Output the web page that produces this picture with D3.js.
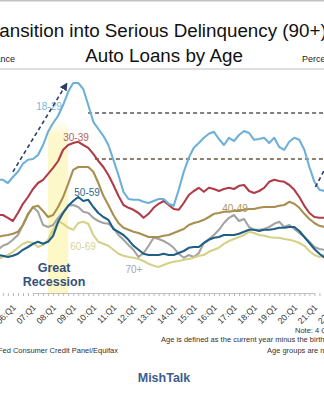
<!DOCTYPE html>
<html>
<head>
<meta charset="utf-8">
<script src="https://cdn.jsdelivr.net/npm/d3@7"></script>
<style>
  html, body { margin: 0; padding: 0; background: #fff; }
  svg { display: block; font-family: "Liberation Sans", Arial, sans-serif; }
</style>
</head>
<body>
<svg id="chart" width="324" height="400"></svg>
<script>
// Quarterly series, percent of balance, first point = 2005 Q2
const firstQuarter = 2005.25;

const age18to29 = [2.83,2.83,2.75,2.90,3.03,3.23,3.33,3.35,3.45,3.70,4.03,4.25,4.43,4.70,5.03,5.25,5.25,5.10,4.70,4.28,
  4.10,3.93,3.70,3.33,2.95,2.53,2.35,2.33,2.33,2.28,2.25,2.30,2.35,2.35,2.23,2.18,2.58,3.03,3.38,3.63,
  3.75,3.88,3.98,4.03,3.85,3.70,3.88,3.80,3.95,4.05,4.00,3.83,3.85,3.88,3.75,3.88,3.65,3.58,3.78,3.88,
  3.83,3.58,3.15,2.78,2.58,2.55,2.70];

const age30to39 = [1.95,1.95,1.88,1.80,2.00,2.23,2.40,2.60,2.75,2.83,2.98,3.13,3.30,3.58,3.70,3.75,3.78,3.70,3.63,3.48,
  3.30,3.15,2.95,2.70,2.43,2.20,2.13,2.08,2.00,1.88,1.98,2.13,2.23,2.30,2.20,2.10,2.08,2.25,2.45,2.55,
  2.63,2.53,2.63,2.60,2.55,2.60,2.63,2.60,2.68,2.70,2.55,2.50,2.55,2.63,2.78,2.83,2.80,2.78,2.70,2.58,
  2.40,2.18,2.00,1.90,1.88,1.88,1.90];

const age40to49 = [1.40,1.43,1.45,1.48,1.53,1.70,1.98,2.15,2.18,2.05,1.90,1.95,2.15,2.40,2.73,3.08,3.15,3.15,3.15,3.03,
  2.75,2.43,2.20,1.95,1.75,1.63,1.58,1.53,1.50,1.45,1.40,1.40,1.40,1.43,1.45,1.50,1.55,1.60,1.70,1.75,
  1.78,1.83,1.90,1.98,2.00,2.03,2.03,2.05,2.05,2.08,2.10,2.10,2.13,2.15,2.15,2.15,2.18,2.20,2.28,2.23,
  2.13,1.98,1.85,1.75,1.68,1.65,1.63];

const age50to59 = [0.95,0.93,0.90,0.93,0.98,1.08,1.15,1.23,1.28,1.23,1.28,1.43,1.78,2.00,2.18,2.30,2.40,2.30,2.33,2.15,
  2.00,1.90,1.83,1.60,1.53,1.45,1.33,1.18,1.08,0.98,0.95,0.95,0.95,0.98,0.95,0.95,1.00,1.05,1.13,1.15,
  1.15,1.25,1.33,1.38,1.40,1.45,1.45,1.45,1.48,1.53,1.58,1.58,1.55,1.58,1.58,1.60,1.63,1.63,1.65,1.65,
  1.55,1.40,1.25,1.10,0.98,0.88,0.83];

const age60to69 = [0.85,0.90,0.95,1.03,1.13,1.23,1.28,1.25,1.15,1.20,1.33,1.58,1.80,1.73,1.63,1.58,1.75,1.78,1.73,1.45,
  1.28,1.23,1.18,1.08,0.98,0.93,0.90,0.88,0.85,0.80,0.73,0.68,0.65,0.70,0.75,0.78,0.80,0.83,0.85,0.88,
  0.93,0.95,1.03,1.08,1.13,1.23,1.30,1.35,1.40,1.45,1.53,1.50,1.45,1.43,1.40,1.38,1.38,1.35,1.33,1.30,
  1.25,1.18,1.05,0.95,0.90,0.95,0.98];

const age70plus = [1.08,1.18,1.23,1.33,1.45,1.70,1.95,2.15,2.03,1.70,1.65,1.70,1.88,2.03,2.18,2.20,2.15,2.03,2.00,1.88,
  1.80,1.75,1.73,1.63,1.45,1.33,1.20,1.08,0.90,1.00,1.18,1.38,1.35,1.30,1.23,1.13,0.98,0.88,0.95,0.90,
  1.00,1.25,1.35,1.45,1.58,1.75,1.88,1.95,1.80,1.85,1.65,1.58,1.58,1.60,1.65,1.73,1.78,1.65,1.70,1.60,
  1.50,1.40,1.28,1.15,1.10,1.08,1.05];

const seriesNames = ["70+", "60-69", "40-49", "50-59", "30-39", "18-29"];
const seriesColors = ["#a3a3a3", "#d6d088", "#a88f50", "#1e5f86", "#b03c48", "#6eb0d8"];
const seriesValues = [age70plus, age60to69, age40to49, age50to59, age30to39, age18to29];

// Label anchors: [year, percent]
const labelNames = ["18-29", "30-39", "40-49", "50-59", "60-69", "70+"];
const labelColors = ["#7ab6dc", "#b8605c", "#a9955e", "#2a6a8e", "#d8d39a", "#a6a6b4"];
const labelPoints = [[2007.80, 4.58], [2009.14, 3.80], [2017.05, 2.03], [2009.69, 2.43], [2009.49, 1.08], [2012.02, 0.50]];

// x axis: one label per year, first quarter
const tickYears = d3.range(2006, 2023);
const tickLabels = ["06:Q1","07:Q1","08:Q1","09:Q1","10:Q1","11:Q1","12:Q1","13:Q1","14:Q1","15:Q1",
  "16:Q1","17:Q1","18:Q1","19:Q1","20:Q1","21:Q1","22:Q1"];

const recession = [2007.75, 2008.75];
const recessionTop = 4.30;

// Earlier peaks carried forward
const refLevels = [4.50, 3.35];
const refStarts = [2009.74, 2010.08];

// Dashed trend arrows: [year, percent] pairs
const arrowStarts = [[2006.0, 3.03], [2021.05, 2.65]];
const arrowEnds = [[2008.67, 5.23], [2022.3, 3.85]];

const svg = d3.select("#chart");
const W = 324, H = 400;

const x = d3.scaleLinear().domain([2007, 2021]).range([33, 314.4]);
const y = d3.scaleLinear().domain([0, 5.55]).range([293, 71]);

// frame rules
svg.append("line").attr("x1", 0).attr("x2", W).attr("y1", 0.8).attr("y2", 0.8)
  .attr("stroke", "#c4c4c4").attr("stroke-width", 1.6);
svg.append("line").attr("x1", 0).attr("x2", W).attr("y1", 69).attr("y2", 69)
  .attr("stroke", "#d4d4d4").attr("stroke-width", 1.6);

// titles
svg.append("text").attr("x", -17.7).attr("y", 37).attr("font-size", 18.8).attr("fill", "#111")
  .text("Transition into Serious Delinquency (90+)");
svg.append("text").attr("x", 164).attr("y", 62).attr("text-anchor", "middle").attr("font-size", 18.8).attr("fill", "#111")
  .text("Auto Loans by Age");
svg.append("text").attr("x", 15).attr("y", 61.5).attr("text-anchor", "end").attr("font-size", 9).attr("fill", "#222")
  .text("Percent of Balance");
svg.append("text").attr("x", 302).attr("y", 61.5).attr("font-size", 9).attr("fill", "#222")
  .text("Percent of Balance");

// recession shading
const defs = svg.append("defs");
const grad = defs.append("linearGradient").attr("id", "recFade").attr("x1", 0).attr("x2", 0).attr("y1", 0).attr("y2", 1);
grad.append("stop").attr("offset", "0%").attr("stop-color", "#fbf29a").attr("stop-opacity", 0.0);
grad.append("stop").attr("offset", "8%").attr("stop-color", "#fbf29a").attr("stop-opacity", 0.5);
grad.append("stop").attr("offset", "100%").attr("stop-color", "#fbf29a").attr("stop-opacity", 0.6);
svg.append("rect")
  .attr("x", x(recession[0])).attr("width", x(recession[1]) - x(recession[0]))
  .attr("y", y(recessionTop)).attr("height", y(0) - y(recessionTop))
  .attr("fill", "url(#recFade)");

// x axis: quarterly ticks
const quarterTicks = d3.range(2005.25, 2023, 0.25);
const axisG = svg.append("g").attr("transform", `translate(0,${y(0)})`)
  .call(d3.axisBottom(x).tickValues(quarterTicks).tickSize(3).tickSizeOuter(0).tickFormat(""));
axisG.select(".domain").attr("stroke", "#c0c0c0");
axisG.selectAll(".tick line").attr("stroke", "#b8b8b8");

const labelAxis = svg.append("g").attr("transform", `translate(0,${y(0)})`)
  .call(d3.axisBottom(x).tickValues(tickYears).tickSize(0).tickFormat((d, i) => tickLabels[i]));
labelAxis.select(".domain").remove();
labelAxis.selectAll("text")
  .attr("font-family", "Liberation Sans, Arial, sans-serif")
  .attr("font-size", 8.6).attr("fill", "#333")
  .attr("text-anchor", "end").attr("y", 0).attr("dy", 0)
  .attr("transform", "translate(3,15) rotate(-45)");

// reference levels
refLevels.forEach((v, i) => {
  svg.append("line")
    .attr("x1", x(refStarts[i])).attr("x2", W + 5)
    .attr("y1", y(v)).attr("y2", y(v))
    .attr("stroke", i === 0 ? "#555555" : "#65553e")
    .attr("stroke-width", 1.3).attr("stroke-dasharray", "4,3");
});

// series lines
const line = d3.line().x((d, i) => x(firstQuarter + i * 0.25)).y(d => y(d)).curve(d3.curveLinear);
seriesValues.forEach((vals, k) => {
  svg.append("path").datum(vals)
    .attr("d", line).attr("fill", "none")
    .attr("stroke", seriesColors[k]).attr("stroke-width", 2.1)
    .attr("stroke-linejoin", "round");
});

// series labels
labelNames.forEach((n, i) => {
  svg.append("text")
    .attr("x", x(labelPoints[i][0])).attr("y", y(labelPoints[i][1]))
    .attr("text-anchor", "middle").attr("font-size", 10).attr("fill", labelColors[i])
    .text(n);
});

// trend arrows
defs.append("marker").attr("id", "arrowHead").attr("viewBox", "0 0 10 10")
  .attr("refX", 8).attr("refY", 5).attr("markerWidth", 5).attr("markerHeight", 5)
  .attr("orient", "auto")
  .append("path").attr("d", "M0,0 L10,5 L0,10 z").attr("fill", "#2c3e66");
arrowStarts.forEach((s, i) => {
  svg.append("line")
    .attr("x1", x(s[0])).attr("y1", y(s[1]))
    .attr("x2", x(arrowEnds[i][0])).attr("y2", y(arrowEnds[i][1]))
    .attr("stroke", "#2c3e66").attr("stroke-width", 1.6).attr("stroke-dasharray", "4,3")
    .attr("marker-end", "url(#arrowHead)");
});

// recession annotation
const recMid = (recession[0] + recession[1]) / 2 - 0.2;
svg.append("text").attr("x", x(recMid)).attr("y", 272).attr("text-anchor", "middle")
  .attr("font-size", 12.5).attr("font-weight", "bold").attr("fill", "#34507c").text("Great");
svg.append("text").attr("x", x(recMid)).attr("y", 286).attr("text-anchor", "middle")
  .attr("font-size", 12.5).attr("font-weight", "bold").attr("fill", "#34507c").text("Recession");

// notes
const noteSize = 7.5;
svg.append("text").attr("x", 295).attr("y", 333).attr("font-size", noteSize).attr("fill", "#333")
  .text("Note: 4 Quarter Moving Sum");
svg.append("text").attr("x", 161).attr("y", 342).attr("font-size", noteSize).attr("fill", "#333")
  .text("Age is defined as the current year minus the birth year.");
svg.append("text").attr("x", 267).attr("y", 353).attr("font-size", noteSize).attr("fill", "#333")
  .text("Age groups are not fixed over time.");
svg.append("text").attr("x", 118).attr("y", 353).attr("text-anchor", "end").attr("font-size", noteSize).attr("fill", "#333")
  .text("Source: New York Fed Consumer Credit Panel/Equifax");

svg.append("text").attr("x", 164).attr("y", 382).attr("text-anchor", "middle")
  .attr("font-size", 12.5).attr("font-weight", "bold").attr("fill", "#3d5e8e").text("MishTalk");
</script>
</body>
</html>
